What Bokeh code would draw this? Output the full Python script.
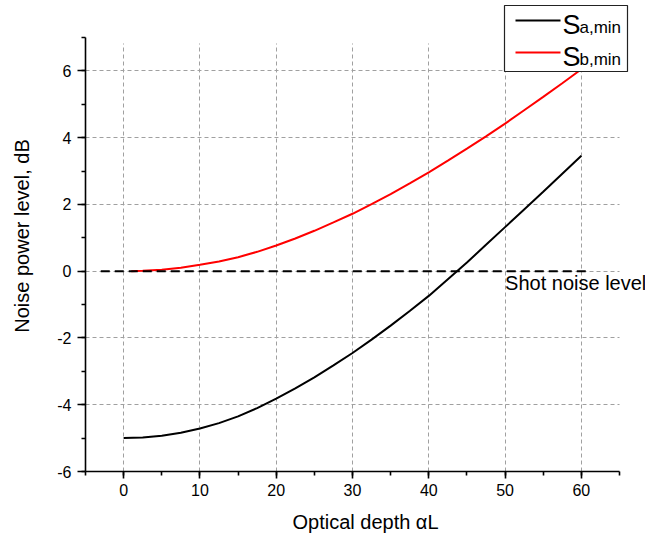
from bokeh.plotting import figure
from bokeh.models import Range1d, SingleIntervalTicker, Label, CustomJSTickFormatter
from bokeh.core.properties import value
from bokeh.embed import file_html
from bokeh.resources import INLINE

# ---- data ----
depth_a = [0, 2.5, 5, 7.5, 10, 12.5, 15, 17.5, 20, 22.5, 25, 27.5, 30, 32.5, 35,
           37.5, 40, 42.5, 45, 47.5, 50, 52.5, 55, 57.5, 60]
s_a_min = [-5.0, -4.98, -4.93, -4.84, -4.71, -4.55, -4.35, -4.10, -3.82, -3.51, -3.18,
           -2.82, -2.45, -2.05, -1.63, -1.19, -0.74, -0.24, 0.26, 0.79, 1.32, 1.85,
           2.38, 2.92, 3.46]
depth_b = [1, 2.5, 5, 7.5, 10, 12.5, 15, 17.5, 20, 22.5, 25, 27.5, 30, 32.5, 35,
           37.5, 40, 42.5, 45, 47.5, 50, 52.5, 55, 57.5, 60]
s_b_min = [0.0, 0.01, 0.04, 0.10, 0.19, 0.29, 0.42, 0.58, 0.77, 0.98, 1.21, 1.46,
           1.72, 2.01, 2.31, 2.63, 2.96, 3.31, 3.67, 4.04, 4.42, 4.82, 5.22, 5.63, 6.05]
shot_x = [-3, 61]
shot_y = [0, 0]
shot_label = "Shot noise level"
x_label = "Optical depth \u03b1L"
y_label = "Noise power level, dB"
series_colors = ["black", "#ff0000"]
legend_main = ["S", "S"]
legend_sub = ["a,min", "b,min"]

FONT = "Liberation Sans"

# layout: axis spans x -5..65 over 534 px, y -6..7 over 434 px
W, H = 645, 540
LEFT, BOTTOM, TOP, RIGHT = 85, 69, 0, 0
fw, fh = W - LEFT - RIGHT, H - TOP - BOTTOM
xpx = 534 / 70.0
ypx = 434 / 13.0
x_max = -5 + fw / xpx
y_max = -6 + fh / ypx
TXT_SHIFT = 9  # baseline correction (px)


def px_to_x(px):
    return -5 + (px - LEFT) / xpx


def py_to_y(py):
    return -6 + (H - BOTTOM - py) / ypx


p = figure(width=W, height=H, output_backend="svg", toolbar_location=None,
           x_range=Range1d(-5, x_max), y_range=Range1d(-6, y_max),
           min_border_left=LEFT, min_border_right=RIGHT,
           min_border_top=TOP, min_border_bottom=BOTTOM)
p.outline_line_color = None
p.background_fill_color = "white"

# axes
p.xaxis.ticker = SingleIntervalTicker(interval=10, num_minor_ticks=2)
p.yaxis.ticker = SingleIntervalTicker(interval=2, num_minor_ticks=2)
p.xaxis.bounds = (-5, 65)
p.yaxis.bounds = (-6, 7)
fmt = "return tick.toFixed(0);"
for ax in (p.xaxis, p.yaxis):
    ax.formatter = CustomJSTickFormatter(code=fmt)
    ax.axis_line_width = 1.6
    ax.axis_line_color = "black"
    ax.major_tick_line_width = 1.6
    ax.minor_tick_line_width = 1.6
    ax.major_tick_line_color = "black"
    ax.minor_tick_line_color = "black"
    ax.major_tick_in = 0
    ax.minor_tick_in = 0
    ax.major_label_text_font = FONT
    ax.major_label_text_font_size = "16px"
    ax.major_label_text_color = "black"
    ax.axis_label_text_font = FONT
    ax.axis_label_text_font_size = "20px"
    ax.axis_label_text_font_style = "normal"
    ax.axis_label_text_color = "black"
p.xaxis.major_tick_out = 7
p.xaxis.minor_tick_out = 4
p.xaxis.major_label_standoff = 5
p.xaxis.axis_label_standoff = 12
p.yaxis.major_tick_out = 8
p.yaxis.minor_tick_out = 4
p.yaxis.major_label_standoff = 6
p.yaxis.axis_label_standoff = 21
p.xaxis.axis_label = x_label
p.yaxis.axis_label = y_label

# grid
for g in (p.xgrid, p.ygrid):
    g.grid_line_color = "#a0a0a0"
    g.grid_line_dash = "4 3"
    g.grid_line_width = 1
p.xgrid.cross_bounds = (-6, 6.82)
p.ygrid.cross_bounds = (-5, 65)

# curves
p.line(depth_a, s_a_min, line_color=series_colors[0], line_width=2)
p.line(depth_b, s_b_min, line_color=series_colors[1], line_width=2)
p.line(shot_x, shot_y, line_color="black", line_width=2, line_dash="9 5")

p.add_layout(Label(x=50, y=py_to_y(291.5 - TXT_SHIFT), text=shot_label, text_font=FONT,
                   text_font_size="20px", text_color="black",
                   text_baseline="alphabetic", text_align="left"))

# legend box (pixel layout 504..627 x 5..71), drawn over the curves
p.rect(x=[px_to_x((504 + 627) / 2)], y=[py_to_y((5 + 71) / 2)],
       width=[123], height=[66], width_units="screen", height_units="screen",
       fill_color="white", fill_alpha=1.0, line_color="#222222", line_width=1.2)
row_py = [20, 52]
for i in range(2):
    p.line([px_to_x(515), px_to_x(560)], [py_to_y(row_py[i])] * 2,
           line_color=series_colors[i], line_width=2)
p.text(x=[px_to_x(562)] * 2, y=[py_to_y(r + 13.5 - TXT_SHIFT) for r in row_py],
       text=legend_main, text_font=value(FONT), text_font_size="27px",
       text_color="black", text_baseline="alphabetic", text_align="left")
p.text(x=[px_to_x(579)] * 2, y=[py_to_y(r + 15.5 - TXT_SHIFT) for r in row_py],
       text=legend_sub, text_font=value(FONT), text_font_size="17px",
       text_color="black", text_baseline="alphabetic", text_align="left")

open("out.html", "w").write(file_html(p, INLINE))
